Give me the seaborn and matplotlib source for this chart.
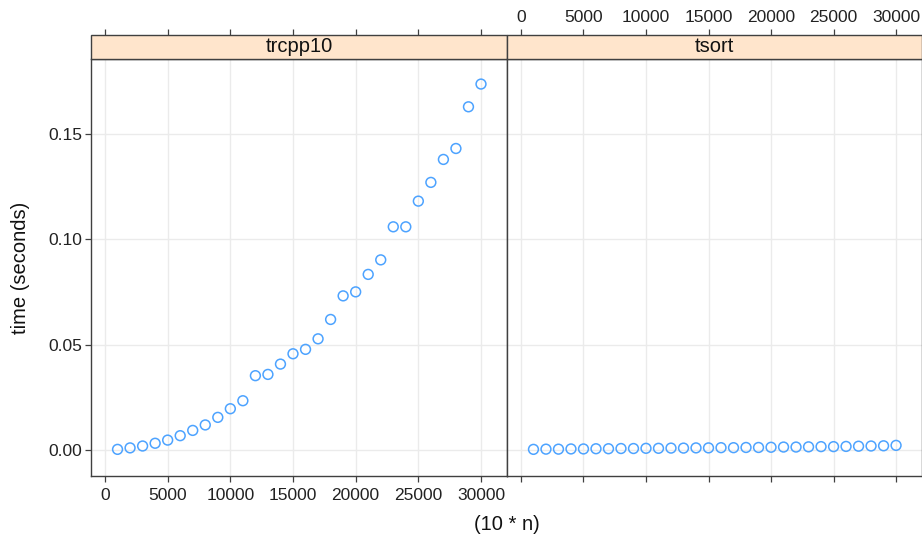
import matplotlib
matplotlib.use("Agg")
import matplotlib.pyplot as plt
import seaborn as sns
import pandas as pd
import numpy as np
from matplotlib.patches import Rectangle

n_values = [1000, 2000, 3000, 4000, 5000, 6000, 7000, 8000, 9000, 10000,
            11000, 12000, 13000, 14000, 15000, 16000, 17000, 18000, 19000, 20000,
            21000, 22000, 23000, 24000, 25000, 26000, 27000, 28000, 29000, 30000]
trcpp10_times = [0.0003, 0.0010, 0.0019, 0.0032, 0.0047, 0.0068, 0.0093, 0.0119, 0.0155, 0.0196,
                 0.0234, 0.0353, 0.0359, 0.0408, 0.0457, 0.0478, 0.0528, 0.0620, 0.0732, 0.0751,
                 0.0834, 0.0903, 0.1060, 0.1060, 0.1182, 0.1271, 0.1380, 0.1432, 0.1630, 0.1738]
tsort_times = [0.0003, 0.0004, 0.0004, 0.0005, 0.0005, 0.0006, 0.0006, 0.0007, 0.0007, 0.0008,
               0.0008, 0.0009, 0.0009, 0.0010, 0.0010, 0.0011, 0.0011, 0.0012, 0.0012, 0.0013,
               0.0014, 0.0014, 0.0015, 0.0016, 0.0016, 0.0017, 0.0018, 0.0019, 0.0020, 0.0022]
panels = ["trcpp10", "tsort"]
x_ticks = [0, 5000, 10000, 15000, 20000, 25000, 30000]
y_ticks = [0.00, 0.05, 0.10, 0.15]

df = pd.DataFrame({
    "n": n_values * 2,
    "time": trcpp10_times + tsort_times,
    "prog": [panels[0]] * len(n_values) + [panels[1]] * len(n_values),
})

sns.set_style("white")
plt.rcParams["font.family"] = ["Liberation Sans", "DejaVu Sans"]

W, H = 922, 542
g = sns.FacetGrid(df, col="prog", col_order=panels, sharex=True, sharey=True,
                  height=5.42, aspect=0.85, despine=False)
g.map_dataframe(sns.scatterplot, x="n", y="time", marker="o", s=50,
                facecolor="none", edgecolor="#4da3ff", linewidth=1.1)
fig = g.figure
fig.set_size_inches(W / 100, H / 100)
fig.set_dpi(100)

top_px, bot_px = 59, 476
strip_h = 24
lefts = [91, 507]
rights = [507, 922]
ax_h_px = bot_px - top_px
edge = "#404040"
tick_fs = 12.5
lab_fs = 14.5

for i, ax in enumerate(g.axes.flat):
    l, r = lefts[i], rights[i]
    ax.set_position([l / W, (H - bot_px) / H, (r - l) / W, ax_h_px / H])
    ax.set_xlim(-1117, 32074)
    ax.set_ylim(-0.01235, 0.1857)
    ax.set_title("")
    ax.set_xlabel("")
    ax.set_ylabel("")
    ax.set_xticks(x_ticks)
    ax.set_yticks(y_ticks)
    ax.grid(True, color="#ebebeb", linewidth=1.0)
    ax.set_axisbelow(True)
    for s in ax.spines.values():
        s.set_color(edge)
        s.set_linewidth(1.0)
    ax.tick_params(axis="both", direction="out", length=4.5, width=0.9, color=edge,
                   labelsize=tick_fs, labelcolor="#222222")
    ax.tick_params(axis="x", bottom=True, top=False, pad=4)
    ax.tick_params(axis="y", pad=2)
    if i == 0:
        ax.set_xticklabels([str(t) for t in x_ticks])
        ax.set_yticklabels(["%.2f" % t for t in y_ticks])
        ax.tick_params(axis="y", left=True, labelleft=True, right=False)
    else:
        ax.tick_params(axis="x", labelbottom=False)
        ax.tick_params(axis="y", left=False, labelleft=False, right=False)
    # strip
    sh = strip_h / ax_h_px
    rect = Rectangle((0, 1), 1, sh, transform=ax.transAxes, facecolor="#ffe5cc",
                     edgecolor=edge, linewidth=1.0, clip_on=False, zorder=5)
    ax.add_patch(rect)
    ax.text(0.5, 1 + sh / 2, panels[i], transform=ax.transAxes, ha="center", va="center",
            fontsize=lab_fs, color="#111111", zorder=6)
    sec = ax.secondary_xaxis(1 + sh)
    sec.set_xticks(x_ticks)
    sec.spines["top"].set_visible(False)
    sec.tick_params(axis="x", direction="out", length=4.5, width=0.9, color=edge,
                    labelsize=tick_fs, labelcolor="#222222", pad=3, top=True)
    if i == 0:
        sec.set_xticklabels([])
    else:
        sec.set_xticklabels([str(t) for t in x_ticks])

fig.text(507 / W, 1 - 524 / H, "(10 * n)", ha="center", va="center", fontsize=lab_fs, color="#111111")
fig.text(20 / W, 1 - 268 / H, "time (seconds)", ha="center", va="center", rotation=90,
         fontsize=lab_fs, color="#111111")

fig.savefig("out.png", dpi=100)
